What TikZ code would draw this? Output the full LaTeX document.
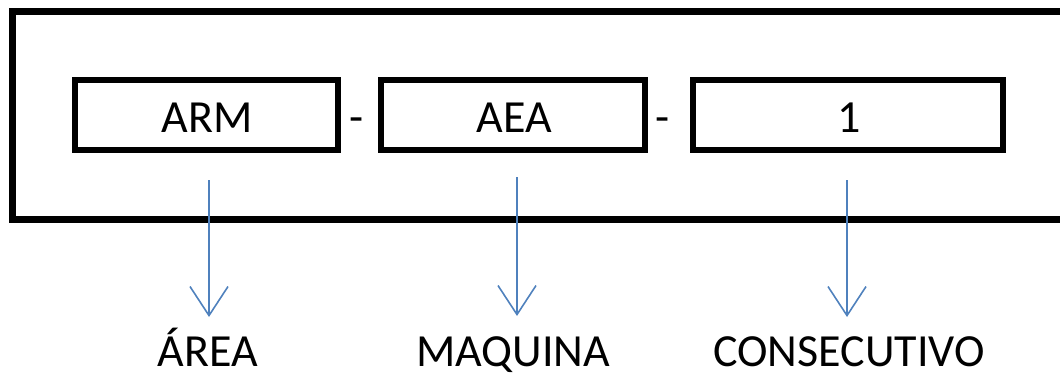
\documentclass[tikz,border=0pt]{standalone}
\usepackage{fontspec}
\setmainfont{Carlito}
\usetikzlibrary{arrows.meta}
\definecolor{arrowblue}{HTML}{4F81BD}
\tikzset{
  field/.style={draw=black, line width=6pt, minimum height=70pt, inner sep=0pt},
  code/.style={font=\fontsize{46}{54}\selectfont, inner sep=0pt, anchor=base},
  label/.style={font=\fontsize{46}{54}\selectfont, inner sep=0pt, anchor=base},
  pointer/.style={draw=arrowblue, line width=1.6pt, -{Straight Barb[length=29pt, width=38pt, line width=1.6pt]}}
}
\begin{document}
\begin{tikzpicture}[x=1pt, y=-1pt]
  \useasboundingbox (0,0) rectangle (1060,377);
  % outer frame, running off the right edge
  \draw[line width=7pt] (1075,11.5) -- (12.5,11.5) -- (12.5,219.5) -- (1075,219.5);
  % the three code fields
  \node[field, minimum width=263pt] (f1) at (206.5,115) {};
  \node[field, minimum width=264pt] (f2) at (513,115) {};
  \node[field, minimum width=310pt] (f3) at (848,115) {};
  \node[code] (t1) at (207,133) {ARM};
  \node[code] (t2) at (514,133) {AEA};
  \node[code] (t3) at (849,133) {1};
  \node[code] (d1) at (357,133) {-};
  \node[code] (d2) at (663,133) {-};
  % meaning of each field
  \node[label] (l1) at (208,366) {ÁREA};
  \node[label] (l2) at (513,366) {MAQUINA};
  \node[label] (l3) at (849,366) {CONSECUTIVO};
  \coordinate (s1) at (209,180);
  \coordinate (s2) at (517,177);
  \coordinate (s3) at (847,180);
  \coordinate (e1) at (209,317);
  \coordinate (e2) at (517,316);
  \coordinate (e3) at (847,317);
  \draw[pointer] (s1) -- (e1);
  \draw[pointer] (s2) -- (e2);
  \draw[pointer] (s3) -- (e3);
\end{tikzpicture}
\end{document}
